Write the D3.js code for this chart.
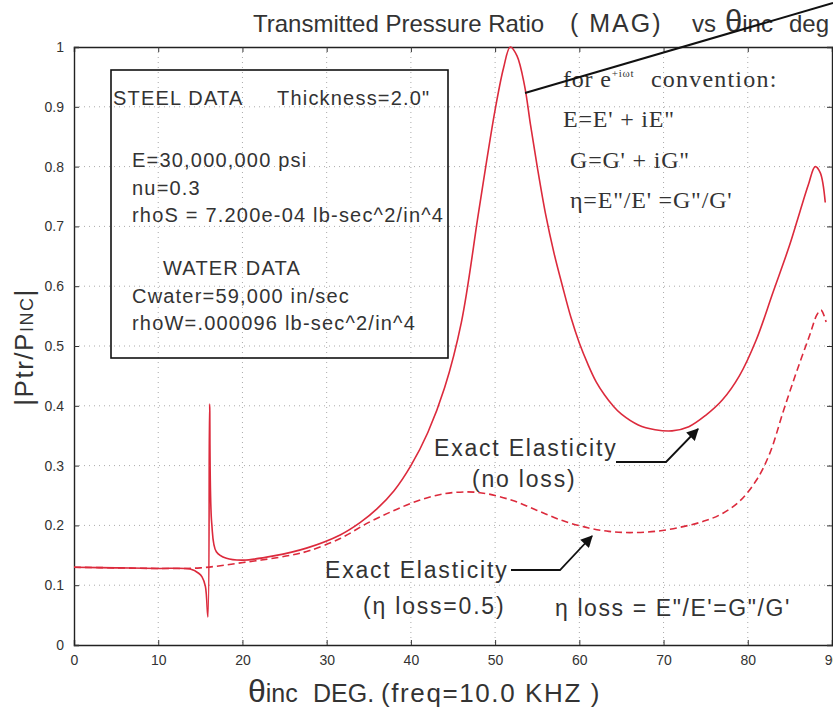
<!DOCTYPE html>
<html>
<head>
<meta charset="utf-8">
<script src="https://cdn.jsdelivr.net/npm/d3@7/dist/d3.min.js"></script>
<style>
  body { margin: 0; background: #fff; }
  svg text { font-family: "Liberation Sans", Arial, Helvetica, sans-serif; fill: #333; }
  svg text.serif { font-family: "Liberation Serif", "Times New Roman", serif; }
</style>
</head>
<body>
<div id="chart"></div>
<script>
// incidence angle (deg) and |Ptr/Pinc|
var thetaNoLoss = [0, 5, 10, 13.8, 14.8, 15.2, 15.6, 15.9, 16.1, 16.35, 16.9, 18.1, 20.1, 23.7, 27.6, 31.6, 34, 36, 38, 40, 42, 44, 46, 48, 49, 50, 51, 51.8, 52.6, 53.5, 54.2, 55, 56, 57, 58, 59, 60, 61, 62, 63, 64, 65, 67, 69, 71, 73, 75, 77, 79, 81, 83, 85, 86.2, 87.2, 88, 88.6, 89.2];
var ratioNoLoss = [0.130, 0.129, 0.128, 0.127, 0.120, 0.114, 0.098, 0.047, 0.403, 0.204, 0.156, 0.145, 0.142, 0.149, 0.162, 0.184, 0.205, 0.228, 0.258, 0.30, 0.355, 0.43, 0.54, 0.72, 0.81, 0.895, 0.965, 1.0, 0.985, 0.935, 0.87, 0.80, 0.72, 0.655, 0.60, 0.548, 0.505, 0.47, 0.44, 0.418, 0.40, 0.386, 0.368, 0.36, 0.358, 0.365, 0.384, 0.41, 0.45, 0.51, 0.59, 0.67, 0.725, 0.77, 0.80, 0.79, 0.74];

var thetaLoss = [0, 5, 10, 15, 20.1, 25.7, 28, 31.6, 35, 38, 41, 44, 46.7, 49, 52, 55, 58, 61, 63.5, 66, 69, 72, 75, 77, 79, 81, 82.6, 84.2, 85.5, 86.5, 87.4, 88.2, 88.7, 89.3];
var ratioLoss = [0.130, 0.129, 0.128, 0.129, 0.138, 0.150, 0.158, 0.178, 0.205, 0.225, 0.242, 0.253, 0.256, 0.253, 0.242, 0.225, 0.208, 0.196, 0.19, 0.188, 0.19, 0.197, 0.208, 0.22, 0.24, 0.275, 0.32, 0.39, 0.445, 0.485, 0.52, 0.552, 0.56, 0.54];

var xTicks = [0, 10, 20, 30, 40, 50, 60, 70, 80, 90];
var yTicks = [0, 0.1, 0.2, 0.3, 0.4, 0.5, 0.6, 0.7, 0.8, 0.9, 1];

var steelLines = ["E=30,000,000 psi", "nu=0.3", "rhoS = 7.200e-04 lb-sec^2/in^4"];
var waterLines = ["Cwater=59,000 in/sec", "rhoW=.000096 lb-sec^2/in^4"];

var svgWidth = 833;
var svgHeight = 712;
var margin = { top: 47, right: 1, bottom: 67, left: 74 };
var width = svgWidth - margin.left - margin.right;
var height = svgHeight - margin.top - margin.bottom;

var svg = d3.select("#chart")
  .append("svg")
  .attr("width", svgWidth)
  .attr("height", svgHeight);

var defs = svg.append("defs");
defs.append("marker")
  .attr("id", "arrow")
  .attr("viewBox", "0 0 10 10")
  .attr("refX", 9)
  .attr("refY", 5)
  .attr("markerWidth", 16)
  .attr("markerHeight", 12)
  .attr("markerUnits", "userSpaceOnUse")
  .attr("orient", "auto")
  .append("path")
  .attr("d", "M0,0 L10,5 L0,10 Z")
  .attr("fill", "#111");

var chartGroup = svg.append("g")
  .attr("transform", `translate(${margin.left}, ${margin.top})`);

var xScale = d3.scaleLinear().domain([0, 90]).range([0, width]);
var yScale = d3.scaleLinear().domain([0, 1]).range([height, 0]);

// dotted grid
chartGroup.append("g")
  .selectAll("line")
  .data(xTicks.slice(1, -1))
  .enter()
  .append("line")
  .attr("x1", d => xScale(d)).attr("x2", d => xScale(d))
  .attr("y1", 0).attr("y2", height)
  .attr("stroke", "#aaa")
  .attr("stroke-width", 1)
  .attr("stroke-dasharray", "1,4");

chartGroup.append("g")
  .selectAll("line")
  .data(yTicks.slice(1, -1))
  .enter()
  .append("line")
  .attr("y1", d => yScale(d)).attr("y2", d => yScale(d))
  .attr("x1", 0).attr("x2", width)
  .attr("stroke", "#aaa")
  .attr("stroke-width", 1)
  .attr("stroke-dasharray", "1,4");

// axes, ticks pointing inward on all four sides
var bottomAxis = d3.axisBottom(xScale).tickValues(xTicks).tickSize(-5).tickPadding(10).tickFormat(d3.format("d"));
var topAxis = d3.axisTop(xScale).tickValues(xTicks).tickSize(-5).tickFormat("");
var leftAxis = d3.axisLeft(yScale).tickValues(yTicks).tickSize(-5).tickPadding(10).tickFormat(d => d === 0 || d === 1 ? d : d3.format(".1f")(d));
var rightAxis = d3.axisRight(yScale).tickValues(yTicks).tickSize(-5).tickFormat("");

function styleAxis(g) {
  g.select(".domain").attr("stroke", "#222").attr("stroke-width", 1.4);
  g.selectAll(".tick line").attr("stroke", "#333");
  g.selectAll(".tick text").attr("font-size", 14).attr("fill", "#444");
}

chartGroup.append("g").attr("transform", `translate(0, ${height})`).call(bottomAxis).call(styleAxis);
chartGroup.append("g").call(topAxis).call(styleAxis);
chartGroup.append("g").call(leftAxis).call(styleAxis);
chartGroup.append("g").attr("transform", `translate(${width}, 0)`).call(rightAxis).call(styleAxis);

// curves
var line = d3.line()
  .x(d => xScale(d[0]))
  .y(d => yScale(d[1]))
  .curve(d3.curveCatmullRom.alpha(0.5));

chartGroup.append("path")
  .datum(d3.zip(thetaLoss, ratioLoss))
  .attr("d", line)
  .attr("fill", "none")
  .attr("stroke", "#dc2a3c")
  .attr("stroke-width", 1.6)
  .attr("stroke-dasharray", "7,4");

chartGroup.append("path")
  .datum(d3.zip(thetaNoLoss, ratioNoLoss))
  .attr("d", line)
  .attr("fill", "none")
  .attr("stroke", "#dc2a3c")
  .attr("stroke-width", 1.6);

// title (runs off the right edge like the original)
var title = svg.append("text")
  .attr("y", 32)
  .attr("font-size", 24);
title.append("tspan").attr("x", 253).text("Transmitted Pressure Ratio");
title.append("tspan").attr("x", 570).attr("font-size", 25).attr("letter-spacing", 2).text("( MAG)");
title.append("tspan").attr("x", 692).text("vs");
title.append("tspan").attr("x", 725).attr("font-size", 31).text("θ");
title.append("tspan").text("inc");
title.append("tspan").attr("x", 789).text("deg");

// axis labels
var xLabel = svg.append("text")
  .attr("y", 702)
  .attr("font-size", 25);
xLabel.append("tspan").attr("x", 248).attr("font-size", 32).text("θ");
xLabel.append("tspan").text("inc");
xLabel.append("tspan").attr("x", 313).text("DEG.");
xLabel.append("tspan").attr("x", 381).attr("font-size", 26).attr("letter-spacing", 1.6).text("(freq=10.0 KHZ )");

var yLabel = svg.append("text")
  .attr("transform", "translate(33, 347) rotate(-90)")
  .attr("text-anchor", "middle")
  .attr("font-size", 26)
  .attr("letter-spacing", 1.5);
yLabel.append("tspan").text("|Ptr/P");
yLabel.append("tspan").attr("font-size", 18).text("INC");
yLabel.append("tspan").text("|");

// material data box
svg.append("rect")
  .attr("x", 111).attr("y", 70)
  .attr("width", 337).attr("height", 288)
  .attr("fill", "none")
  .attr("stroke", "#111")
  .attr("stroke-width", 1.6);

var boxText = svg.append("g").attr("font-size", 20).attr("letter-spacing", 1.2);
boxText.append("text").attr("x", 113).attr("y", 105).text("STEEL DATA");
boxText.append("text").attr("x", 277).attr("y", 105).text("Thickness=2.0\"");
boxText.selectAll("text.steel")
  .data(steelLines)
  .enter()
  .append("text")
  .attr("class", "steel")
  .attr("x", 132)
  .attr("y", (d, i) => 167 + i * 27.5)
  .text(d => d);
boxText.append("text").attr("x", 163).attr("y", 275).text("WATER DATA");
boxText.selectAll("text.water")
  .data(waterLines)
  .enter()
  .append("text")
  .attr("class", "water")
  .attr("x", 132)
  .attr("y", (d, i) => 303 + i * 26.5)
  .text(d => d);

// complex modulus convention (serif)
var conv = svg.append("g").attr("font-size", 24).attr("letter-spacing", 0.8);
var c1 = conv.append("text").attr("class", "serif").attr("x", 563).attr("y", 87);
c1.append("tspan").text("for e");
c1.append("tspan").attr("font-size", 11).attr("dy", -10).text("+iωt");
c1.append("tspan").attr("dy", 10).attr("x", 651).attr("letter-spacing", 1.2).text("convention:");
conv.append("text").attr("class", "serif").attr("x", 563).attr("y", 127).text("E=E' + iE\"");
conv.append("text").attr("class", "serif").attr("x", 570).attr("y", 168).text("G=G' + iG\"");
conv.append("text").attr("class", "serif").attr("x", 570).attr("y", 208).text("η=E\"/E' =G\"/G'");

// pointer to the resonance peak
svg.append("line")
  .attr("x1", 525).attr("y1", 93)
  .attr("x2", 833).attr("y2", 3)
  .attr("stroke", "#111")
  .attr("stroke-width", 2);

// curve annotations
var ann = svg.append("g").attr("font-size", 23).attr("letter-spacing", 1.8);
ann.append("text").attr("x", 434).attr("y", 456).text("Exact Elasticity");
ann.append("text").attr("x", 472).attr("y", 487).text("(no loss)");
ann.append("text").attr("x", 325).attr("y", 578).text("Exact Elasticity");
ann.append("text").attr("x", 363).attr("y", 614).text("(η loss=0.5)");
ann.append("text").attr("x", 555).attr("y", 616).attr("letter-spacing", 1.6).text("η loss = E\"/E'=G\"/G'");

svg.append("polyline")
  .attr("points", "616,462 666,462 698,429")
  .attr("fill", "none")
  .attr("stroke", "#111")
  .attr("stroke-width", 1.8)
  .attr("marker-end", "url(#arrow)");

svg.append("polyline")
  .attr("points", "511,570 560,570 592,536")
  .attr("fill", "none")
  .attr("stroke", "#111")
  .attr("stroke-width", 1.8)
  .attr("marker-end", "url(#arrow)");
</script>
</body>
</html>
